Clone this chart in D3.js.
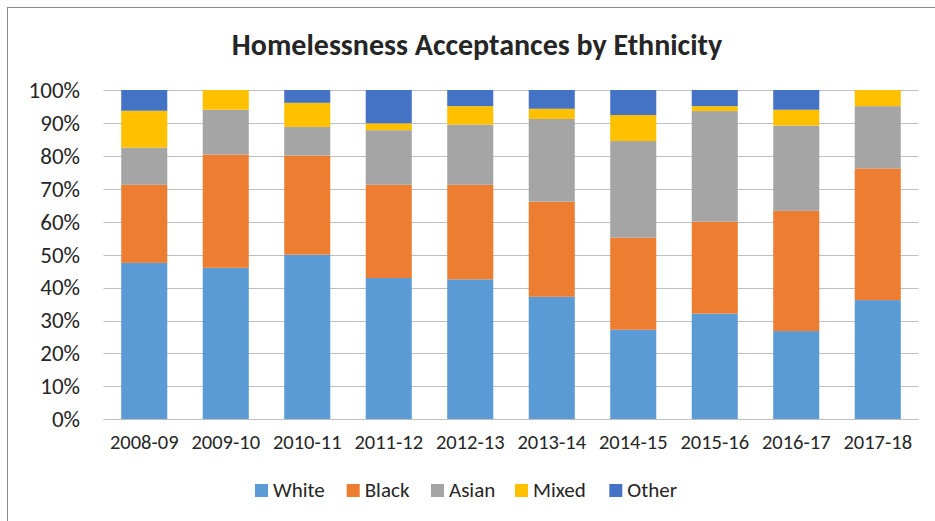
<!DOCTYPE html>
<html>
<head>
<meta charset="utf-8">
<script src="https://cdn.jsdelivr.net/npm/d3@7"></script>
<style>
  html, body { margin: 0; padding: 0; background: #fff; }
  svg { display: block; }
  text { font-family: Calibri, Carlito, Lato, "Open Sans", sans-serif; fill: #262626; }
</style>
</head>
<body>
<svg id="chart" width="935" height="521"></svg>
<script>
const title = "Homelessness Acceptances by Ethnicity";
const years = ["2008-09","2009-10","2010-11","2011-12","2012-13","2013-14","2014-15","2015-16","2016-17","2017-18"];
const seriesNames = ["White","Black","Asian","Mixed","Other"];
const seriesColors = ["#5B9BD5","#ED7D31","#A5A5A5","#FFC000","#4472C4"];
const white = [47.5, 46.0, 50.0, 42.9, 42.5, 37.2, 27.2, 32.1, 26.8, 36.2];
const black = [23.7, 34.4, 30.1, 28.3, 28.7, 28.9, 28.0, 27.9, 36.5, 40.0];
const asian = [11.3, 13.6,  8.7, 16.6, 18.3, 25.1, 29.3, 33.6, 25.9, 18.9];
const mixed = [11.2,  6.0,  7.3,  2.1,  5.6,  3.1,  7.9,  1.5,  4.8,  4.9];
const other = [ 6.3,  0.0,  3.9, 10.1,  4.9,  5.7,  7.6,  4.9,  6.0,  0.0];
const yTicks = [0,10,20,30,40,50,60,70,80,90,100];

const svg = d3.select("#chart");
const W = 935, H = 521;
const margin = {left: 103.5, right: 16.5, top: 90, bottom: 101.7};
const FONT = "Calibri, Carlito, Lato, 'Open Sans', sans-serif";

// outer border (chart frame)
svg.append("rect").attr("x", 7.5).attr("y", 7.5).attr("width", 1000).attr("height", 1000)
  .attr("fill", "none").attr("stroke", "#8c8c8c").attr("stroke-width", 1);

const x = d3.scaleBand().domain(years).range([margin.left, W - margin.right]).paddingInner(0.435).paddingOuter(0.2175);
const y = d3.scaleLinear().domain([0, 100]).range([H - margin.bottom, margin.top]);

// gridlines
svg.append("g").selectAll("line").data(yTicks).join("line")
  .attr("x1", margin.left).attr("x2", W - margin.right)
  .attr("y1", d => Math.round(y(d)) + 0.5).attr("y2", d => Math.round(y(d)) + 0.5)
  .attr("stroke", "#bfbfbf").attr("stroke-width", 1);

// stack
const rows = years.map((yr, i) => ({year: yr, White: white[i], Black: black[i], Asian: asian[i], Mixed: mixed[i], Other: other[i]}));
const stacked = d3.stack().keys(seriesNames)(rows);
const color = d3.scaleOrdinal().domain(seriesNames).range(seriesColors);

svg.append("g").selectAll("g").data(stacked).join("g")
  .attr("fill", d => color(d.key))
  .selectAll("rect").data(d => d).join("rect")
  .attr("x", d => x(d.data.year))
  .attr("width", x.bandwidth())
  .attr("y", d => y(d[1]))
  .attr("height", d => Math.max(0, y(d[0]) - y(d[1])));

// bottom axis line
svg.append("line").attr("x1", margin.left).attr("x2", W - margin.right)
  .attr("y1", Math.round(y(0)) + 0.5).attr("y2", Math.round(y(0)) + 0.5)
  .attr("stroke", "#bfbfbf");

// y axis labels
const yAxis = d3.axisLeft(y).tickValues(yTicks).tickFormat(d => d + "%").tickSize(0).tickPadding(0);
const gy = svg.append("g").attr("transform", `translate(${80},0)`).call(yAxis);
gy.select(".domain").remove();
gy.selectAll("text").attr("font-size", 23).attr("fill", "#262626").style("font-family", FONT);

// x axis labels
const xAxis = d3.axisBottom(x).tickSize(0).tickPadding(0);
const gx = svg.append("g").attr("transform", `translate(0,${y(0) + 15})`).call(xAxis);
gx.select(".domain").remove();
gx.selectAll("text").attr("font-size", 20.5).attr("fill", "#262626").style("font-family", FONT);

// title
svg.append("text").attr("x", 477).attr("y", 55).attr("text-anchor", "middle")
  .attr("font-size", 30).attr("font-weight", "bold").attr("fill", "#000").text(title);

// legend
const legendX = [255, 346.7, 431, 515, 609.3];
const lg = svg.append("g").selectAll("g").data(seriesNames).join("g")
  .attr("transform", (d, i) => `translate(${legendX[i]},484)`);
lg.append("rect").attr("width", 13).attr("height", 13).attr("fill", d => color(d));
lg.append("text").attr("x", 18).attr("y", 13).attr("font-size", 21).attr("fill", "#262626").text(d => d);
</script>
</body>
</html>
